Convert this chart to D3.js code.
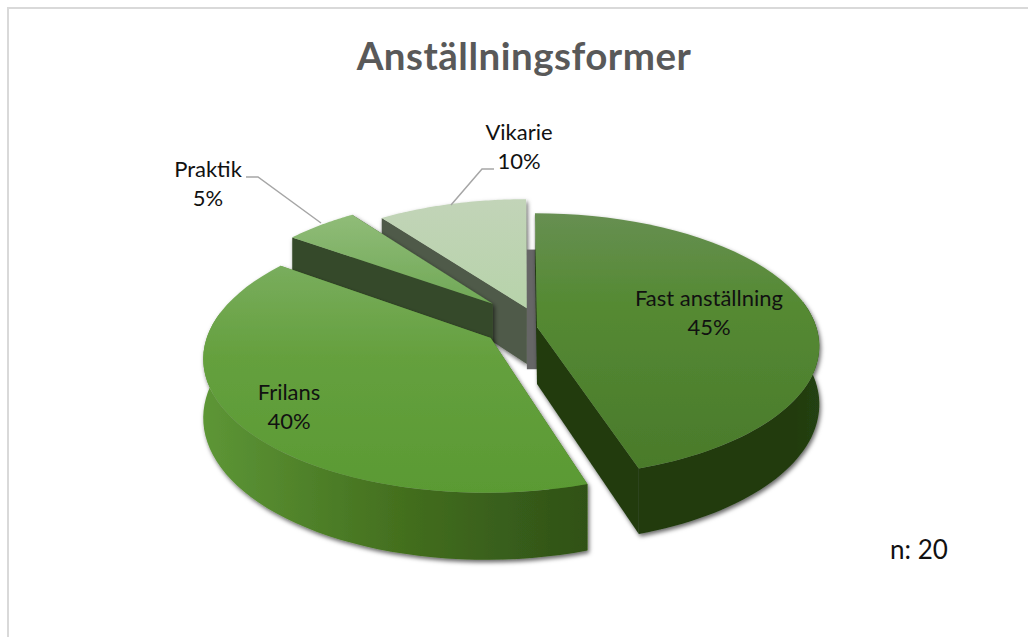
<!DOCTYPE html>
<html><head><meta charset="utf-8">
<script src="https://cdn.jsdelivr.net/npm/d3@7"></script>
<style>html,body{margin:0;padding:0;background:#fff}svg{display:block}text{font-family:Lato,sans-serif}</style>
</head><body><svg id="c" width="1028" height="637"></svg>
<script>
const categories=["Fast anställning","Frilans","Praktik","Vikarie"];
const values=[45,40,5,10];
const nLabel="n: 20";
const titleText="Anställningsformer";
// layout constants
const W=1028,H=637,vx=520,vy=327,Rx=285,Ry=132,persp=0.14,depth=57;
const explodeX=[17,-29,-28,7],explodeY=[0,0.083,-0.18,-0.145],radii=[0.98,0.985,0.97,0.975];
const labelPos=[[709,299],[289,393],[208,170],[519,133]];
const topStops=[[["0","#678f52"],["0.35","#558a33"],["1","#4a7a2b"]],[["0","#79ad5d"],["0.4","#65a03e"],["1","#5a9a33"]],[["0","#90bc78"],["1","#70a856"]],[["0","#c2d4b8"],["1","#b7d3aa"]]];
const wallStops=[[["0","#203a10"],["0.85","#203a10"],["1","#254212"]],[["0","#5d9636"],["0.5","#44701f"],["1","#2f5117"]],[["0","#3f5432"],["1","#35492a"]],[["0","#505b49"],["1","#4f5a48"]]];
const leaders=[[[321,223],[258,177],[246,177]],[[451,205],[482,169],[494,169]]];

const svg=d3.select("#c");
const defs=svg.append("defs");
const f=defs.append("filter").attr("id","sh").attr("x","-10%").attr("y","-10%").attr("width","120%").attr("height","125%");
f.append("feDropShadow").attr("dx",1.5).attr("dy",2.5).attr("stdDeviation",2).attr("flood-color","#000").attr("flood-opacity",0.6);
function grad(id,stops,x2,y2){const g=defs.append("linearGradient").attr("id",id).attr("x1",0).attr("y1",0).attr("x2",x2).attr("y2",y2);
 stops.forEach(s=>g.append("stop").attr("offset",s[0]).attr("stop-color",s[1]));}
categories.forEach((c,i)=>{grad("t"+i,topStops[i],0,1);grad("w"+i,wallStops[i],1,0);});

const line=d3.line();
svg.append("path").attr("d",line([[8,H],[8,8],[W,8]])).attr("fill","none").attr("stroke","#d9d9d9").attr("stroke-width",2);
svg.append("text").attr("x",524).attr("y",70).attr("text-anchor","middle").attr("font-size",38.5).attr("letter-spacing",0.5).attr("font-weight",700).attr("fill","#595959").text(titleText);

const arcs=d3.pie().sort(null)(values);
function proj(i,a,r,z){
 const X=Math.sin(a)*r*radii[i],Y=-Math.cos(a)*r*radii[i]+explodeY[i],s=1/(1-persp*Y);
 return [vx+(explodeX[i]+X*Rx)*s, vy+(Y*Ry+z*depth)*s];
}
const arcPts=(i,a0,a1,z)=>d3.range(0,49).map(k=>proj(i,a0+(a1-a0)*k/48,1,z));
const frontFrom=Math.PI/2-0.2,frontTo=3*Math.PI/2+0.2;
function drawSlice(i){
 const d=arcs[i],g=svg.append("g").attr("filter","url(#sh)");
 const top=[proj(i,0,0,0),...arcPts(i,d.startAngle,d.endAngle,0)];
 const wall=(a)=>[proj(i,0,0,0),proj(i,a,1,0),proj(i,a,1,1),proj(i,0,0,1)];
 g.append("path").attr("d",line(wall(d.endAngle))+"Z").attr("fill",wallStops[i][0][1]);
 g.append("path").attr("d",line(wall(d.startAngle))+"Z").attr("fill",wallStops[i][1][1]);
 const a0=Math.max(d.startAngle,frontFrom),a1=Math.min(d.endAngle,frontTo);
 if(a1>a0){
  const outer=[...arcPts(i,a0,a1,0),...arcPts(i,a0,a1,1).reverse()];
  g.append("path").attr("d",line(outer)+"Z").attr("fill",`url(#w${i})`);
 }
 g.append("path").attr("d",line(top)+"Z").attr("fill",`url(#t${i})`);
}
drawSlice(3);
// shadow band cast by Vikarie on Fast's inner wall
const pa=proj(3,0,0,0),pb=proj(0,0,0,0),pc=proj(3,0,0.6,0);
svg.append("rect").attr("x",pa[0]).attr("y",pc[1]+10).attr("width",pb[0]-pa[0]).attr("height",pa[1]+depth+4-pc[1]-10).attr("fill","#666");
drawSlice(2);drawSlice(0);drawSlice(1);

leaders.forEach(p=>svg.append("path").attr("d",line(p)).attr("fill","none").attr("stroke","#a6a6a6").attr("stroke-width",1.5));
categories.forEach((c,i)=>{
 const t=svg.append("text").attr("text-anchor","middle").attr("font-size",22).attr("fill","#111");
 t.append("tspan").attr("x",labelPos[i][0]).attr("y",labelPos[i][1]+7).text(c);
 t.append("tspan").attr("x",labelPos[i][0]).attr("y",labelPos[i][1]+36).text(values[i]+"%");
});
svg.append("text").attr("x",890).attr("y",559).attr("font-size",26).attr("fill","#111").text(nLabel);
</script></body></html>
